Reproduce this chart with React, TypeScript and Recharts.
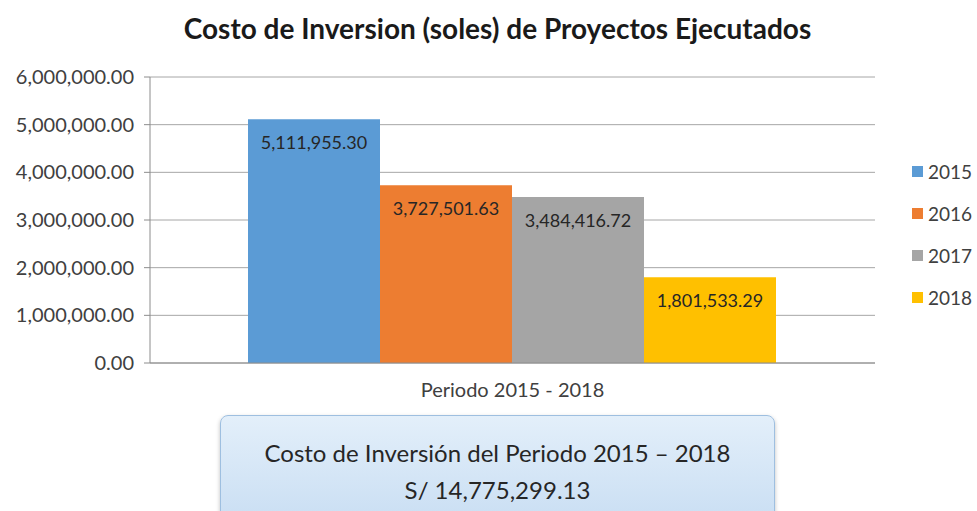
import { BarChart, Bar, XAxis, YAxis, CartesianGrid, Legend, LabelList } from 'recharts'

const YEARS = ['2015', '2016', '2017', '2018']
const COSTS = [5111955.3, 3727501.63, 3484416.72, 1801533.29]
const COLORS = ['#5B9BD5', '#ED7D31', '#A5A5A5', '#FFC000']
const CATEGORY = 'Periodo 2015 - 2018'
const Y_TICKS = [0, 1000000, 2000000, 3000000, 4000000, 5000000, 6000000]
const TOTAL_LABEL = 'Costo de Inversión del Periodo 2015 – 2018'
const TOTAL_VALUE = 'S/ 14,775,299.13'

const FONT = 'Lato, "Open Sans", sans-serif'

const fmt = (v: number) =>
  Number(v).toLocaleString('en-US', { minimumFractionDigits: 2, maximumFractionDigits: 2 })

const row: Record<string, string | number> = { name: CATEGORY }
YEARS.forEach((y, i) => {
  row['y' + y] = COSTS[i]
})
const chartData = [row]

function LegendBox({ payload }: any) {
  return (
    <div>
      {(payload ?? []).map((p: any) => (
        <div
          key={p.value}
          style={{ display: 'flex', alignItems: 'center', height: 42, fontFamily: FONT, fontSize: 19, color: '#404040' }}
        >
          <span style={{ width: 11, height: 11, background: p.color, marginRight: 5, display: 'inline-block' }} />
          {p.value}
        </div>
      ))}
    </div>
  )
}

export default function App() {
  return (
    <div style={{ position: 'absolute', left: 0, top: 0, width: 977, height: 511, overflow: 'hidden', background: '#fff' }}>
      <div
        style={{
          position: 'absolute', left: 0, width: 995, top: 11, textAlign: 'center',
          fontFamily: FONT, fontWeight: 700, fontSize: 28, color: '#1a1a1a',
        }}
      >
        Costo de Inversion (soles) de Proyectos Ejecutados
      </div>
      <div style={{ position: 'absolute', left: 0, top: 0 }}>
        <BarChart
          width={977}
          height={400}
          data={chartData}
          margin={{ top: 77, right: 22, left: 0, bottom: 0 }}
          barCategoryGap={98}
          barGap={0}
        >
          <CartesianGrid vertical={false} stroke="#a6a6a6" />
          <XAxis
            dataKey="name"
            height={37}
            tickLine={false}
            stroke="#8c8c8c"
            tickMargin={14}
            tick={{ fontFamily: FONT, fontSize: 20, fill: '#404040' }}
          />
          <YAxis
            width={150}
            domain={[0, 6000000]}
            ticks={Y_TICKS}
            tickFormatter={fmt}
            stroke="#8c8c8c"
            tickSize={6}
            tickMargin={10}
            tick={{ fontFamily: FONT, fontSize: 20, fill: '#404040' }}
          />
          <Legend
            layout="vertical"
            verticalAlign="top"
            align="right"
            wrapperStyle={{ position: 'absolute', left: 912, top: 150, width: 80 }}
            content={<LegendBox />}
          />
          {YEARS.map((y, i) => (
            <Bar key={y} dataKey={'y' + y} name={y} fill={COLORS[i]} isAnimationActive={false}>
              <LabelList
                dataKey={'y' + y}
                position="insideTop"
                offset={17}
                formatter={(v: any) => fmt(v)}
                fill="#262626"
                style={{ fontFamily: FONT, fontSize: 18 }}
              />
            </Bar>
          ))}
        </BarChart>
      </div>
      <div
        style={{
          position: 'absolute', left: 220, top: 415, width: 555, height: 110, boxSizing: 'border-box',
          borderRadius: 8, border: '1px solid #9ebfe0',
          background: 'linear-gradient(180deg, #e3effa 0%, #c9def3 100%)',
          boxShadow: '0 2px 4px rgba(0,0,0,0.25)',
          textAlign: 'center', fontFamily: FONT, fontSize: 24, color: '#262626', lineHeight: '37px', paddingTop: 18,
        }}
      >
        <div>{TOTAL_LABEL}</div>
        <div>{TOTAL_VALUE}</div>
      </div>
    </div>
  )
}
